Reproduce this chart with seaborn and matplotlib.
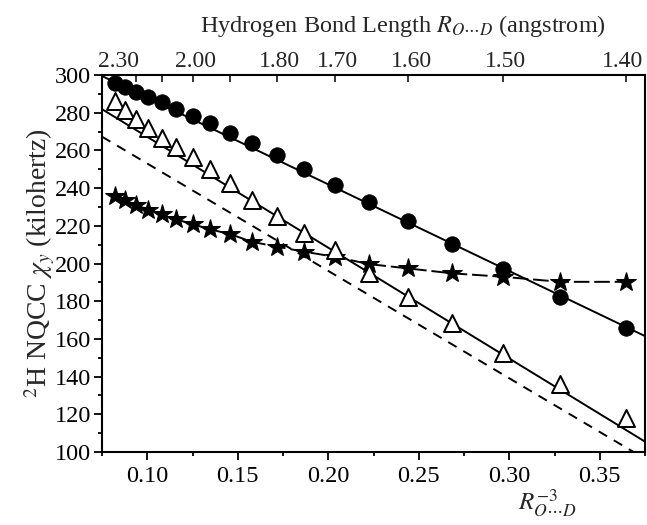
import numpy as np
import pandas as pd
import matplotlib
matplotlib.use("Agg")
import matplotlib.pyplot as plt
from matplotlib.ticker import MultipleLocator, NullLocator
from matplotlib.transforms import ScaledTranslation
import seaborn as sns

# O...D hydrogen bond lengths (angstrom) of the computed points
bond_length = [2.30, 2.25, 2.20, 2.15, 2.10, 2.05, 2.00, 1.95, 1.90, 1.85,
               1.80, 1.75, 1.70, 1.65, 1.60, 1.55, 1.50, 1.45, 1.40]
# 2H NQCC chi_y (kHz)
circles = [296.0, 293.5, 291.0, 288.5, 285.5, 282.0, 278.5, 274.5, 269.5, 264.0,
           257.5, 250.0, 241.5, 232.5, 222.5, 210.5, 197.0, 182.0, 166.0]
triangles = [286.4, 281.4, 276.5, 271.7, 266.4, 261.6, 256.3, 250.0, 242.5, 233.7,
             225.0, 216.4, 207.2, 194.8, 182.0, 168.3, 152.4, 136.0, 118.0]
stars = [236.0, 233.5, 231.0, 228.5, 226.3, 223.4, 220.9, 218.1, 215.6, 211.5,
         209.0, 206.3, 203.6, 199.7, 197.4, 194.8, 193.0, 190.3, 190.3]

# straight reference / fit lines, given at the two x-axis limits
line_x = [0.075, 0.375]
circle_fit = [299.5, 161.5]
triangle_fit = [281.9, 105.5]
dashed_ref = [267.3, 96.4]

# top axis (bond length) ticks
top_ticks = [2.30, 2.20, 2.10, 2.00, 1.90, 1.80, 1.70, 1.60, 1.50, 1.40]
top_labels = ["2.30", "", "", "2.00", "", "1.80", "1.70", "1.60", "1.50", "1.40"]

sns.set_theme(style="ticks")
plt.rcParams['font.family'] = ['Liberation Serif', 'DejaVu Serif']
plt.rcParams['mathtext.fontset'] = 'stix'

x_vals = np.power(np.array(bond_length), -3.0)
df = pd.DataFrame({"x": x_vals, "circle": circles,
                   "triangle": triangles, "star": stars})

fig = plt.figure(figsize=(6.47, 5.25), dpi=100)
ax = fig.add_axes([0.1577, 0.139, 0.8393, 0.718])

lw = 1.4
sns.lineplot(x=line_x, y=circle_fit, color="black", linewidth=lw, ax=ax, zorder=2)
sns.lineplot(x=line_x, y=triangle_fit, color="black", linewidth=lw, ax=ax, zorder=2)
sns.lineplot(x=line_x, y=dashed_ref, color="black", linewidth=lw,
             linestyle=(0, (5, 4)), ax=ax, zorder=2)
sns.lineplot(data=df, x="x", y="star", color="black", linewidth=lw,
             linestyle=(0, (8, 2.5)), marker="*", markersize=15,
             markeredgecolor="black", markerfacecolor="black", ax=ax, zorder=3)
sns.scatterplot(data=df, x="x", y="circle", color="black", edgecolor="black",
                marker="o", s=125, linewidth=0.5, ax=ax, zorder=4)
sns.scatterplot(data=df, x="x", y="triangle", facecolor="white", edgecolor="black",
                marker="^", s=150, linewidth=1.4, ax=ax, zorder=4)

ax.set_xlim(0.075, 0.375)
ax.set_ylim(100, 300)
ax.xaxis.set_major_locator(MultipleLocator(0.05))
ax.xaxis.set_minor_locator(MultipleLocator(0.025))
ax.yaxis.set_major_locator(MultipleLocator(20))
ax.yaxis.set_minor_locator(MultipleLocator(10))
ax.xaxis.set_major_formatter(matplotlib.ticker.FormatStrFormatter("%.2f"))
ax.tick_params(which="both", direction="out", width=1.3, colors="black",
               labelsize=17.5, top=False, right=False)
ax.tick_params(which="major", length=6)
ax.tick_params(which="minor", length=3)
ax.tick_params(axis="x", pad=4)
ax.tick_params(axis="y", pad=2)
for sp in ax.spines.values():
    sp.set_visible(True)
    sp.set_linewidth(1.5)
    sp.set_color("black")

ax.set_ylabel(r"$^{2}$H NQCC $\chi_{y}$ (kilohertz)", fontsize=20, labelpad=-2)
ax.set_xlabel(r"$R^{-3}_{O\cdots D}$", fontsize=18)
ax.xaxis.set_label_coords(0.82, -0.095)

sec = ax.secondary_xaxis(
    "top",
    functions=(lambda v: np.power(np.clip(v, 1e-6, None), -1.0 / 3.0),
               lambda r: np.power(np.clip(r, 1e-6, None), -3.0)))
sec.set_xticks(top_ticks, labels=top_labels)
sec.xaxis.set_minor_locator(NullLocator())
sec.tick_params(direction="in", length=5, width=1.3, labelsize=17, pad=2)
labs = sec.get_xticklabels()
for i, lab in enumerate(labs):
    dx = 3 if i < len(labs) - 1 else -3
    lab.set_transform(lab.get_transform() + ScaledTranslation(dx / 100, 0, fig.dpi_scale_trans))
sec.set_xlabel(r"Hydrogen Bond Length $R_{O\cdots D}$ (angstrom)",
               fontsize=17.5, labelpad=14)
sec.xaxis.label.set_x(0.555)

fig.savefig("out.png", dpi=100)
